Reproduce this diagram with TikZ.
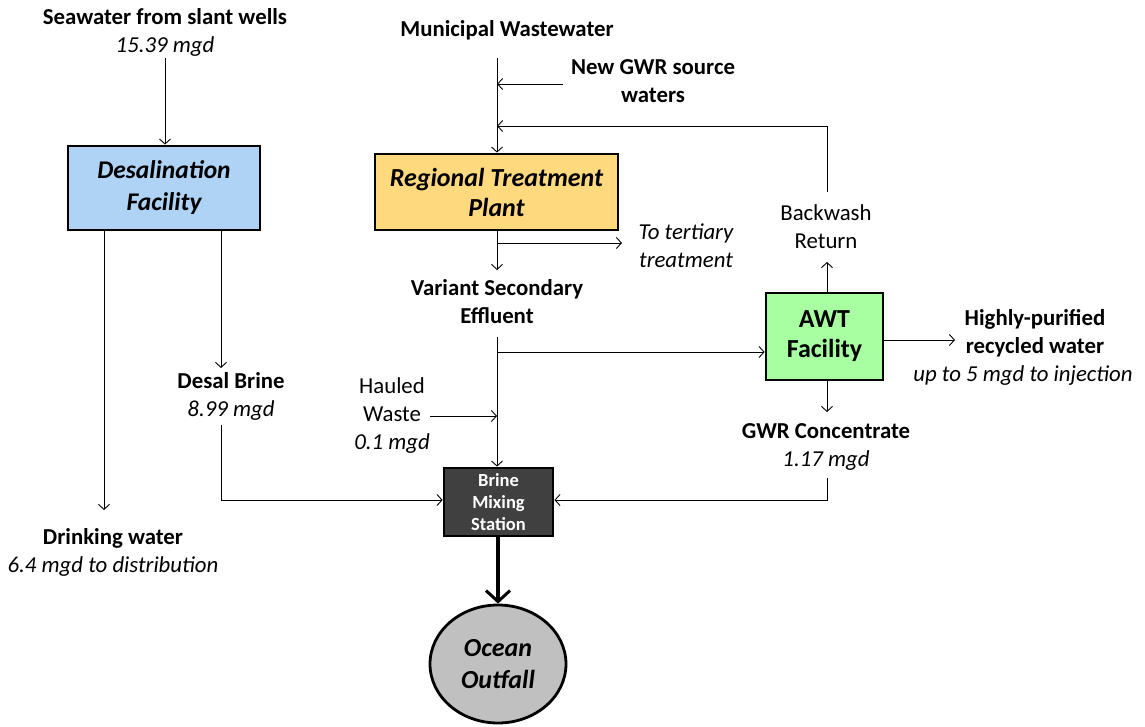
\documentclass[tikz,border=0pt]{standalone}
\usepackage{fontspec}
\setmainfont{Carlito}
\usetikzlibrary{arrows.meta,shapes.geometric}
\definecolor{desalblue}{HTML}{AED3F5}
\definecolor{rtpgold}{HTML}{FFD97D}
\definecolor{awtgreen}{HTML}{A8FFA2}
\definecolor{mixgray}{HTML}{404040}
\definecolor{outgray}{HTML}{C0C0C0}
\tikzset{
  flow/.style={-{Straight Barb[length=5pt,width=11pt]}, line width=0.9pt},
  bigflow/.style={-{Straight Barb[length=11pt,width=24pt,line width=3pt]}, line width=3.8pt},
  unit/.style={draw, line width=2.8pt, align=center, inner sep=0pt,
    font=\fontsize{26}{31}\selectfont\bfseries\itshape},
  lbl/.style={align=center, inner sep=0pt, font=\fontsize{22.8}{28}\selectfont\bfseries},
  plain/.style={align=center, inner sep=0pt, font=\fontsize{22.8}{28}\selectfont},
  ital/.style={align=center, inner sep=0pt, font=\fontsize{22.8}{28}\selectfont\itshape},
}
\begin{document}
\begin{tikzpicture}[x=1pt,y=-1pt]
\useasboundingbox (0,0) rectangle (1145,726);
% units
\node[unit, fill=desalblue, minimum width=192pt, minimum height=84pt, font=\fontsize{25.5}{32}\selectfont\bfseries\itshape] (desal) at (164,188) {Desalination\\Facility};
\node[unit, fill=rtpgold, minimum width=243pt, minimum height=76pt, font=\fontsize{26}{30}\selectfont\bfseries\itshape] (rtp) at (496.5,192) {Regional Treatment\\Plant};
\node[unit, fill=awtgreen, minimum width=117pt, minimum height=87pt, font=\fontsize{26}{30}\selectfont\bfseries] (awt) at (824.5,336.5) {AWT\\Facility};
\node[draw, line width=2.8pt, fill=mixgray, text=white, align=center, inner sep=0pt,
  minimum width=109pt, minimum height=68pt, font=\fontsize{18.5}{22}\selectfont\bfseries] (mix) at (498.5,502) {Brine\\Mixing\\Station};
\node[ellipse, draw, line width=2.8pt, fill=outgray, minimum width=136pt, minimum height=118pt, inner sep=0pt, align=center,
  font=\fontsize{26}{32}\selectfont\bfseries\itshape] (ocean) at (498,664) {Ocean\\Outfall};
% labels
\node[lbl] (sea) at (165,32) {Seawater from slant wells\\{\mdseries\itshape 15.39 mgd}};
\node[lbl] (dw) at (113,552) {Drinking water\\{\mdseries\itshape 6.4 mgd to distribution}};
\node[lbl] (brine) at (231,396) {Desal Brine\\{\mdseries\itshape 8.99 mgd}};
\node[lbl] (muni) at (507,30) {Municipal Wastewater};
\node[lbl] (newgwr) at (653,81) {New GWR source\\waters};
\node[ital] (tert) at (686,246) {To tertiary\\treatment};
\node[lbl] (vse) at (497,302) {Variant Secondary\\Effluent};
\node[plain] (haul) at (392,416) {Hauled\\Waste\\{\itshape 0.1 mgd}};
\node[plain] (bw) at (826,227) {Backwash\\Return};
\node[lbl] (hp) at (1035,333) {Highly-purified\\recycled water};
\node[ital] (inj) at (1023,376) {up to 5 mgd to injection};
\node[lbl] (gwrc) at (826,447) {GWR Concentrate\\{\mdseries\itshape 1.17 mgd}};
% coordinates
\coordinate (seaend) at (165,58);
\coordinate (dwtop) at (104,510);
\coordinate (brtop) at (221,368);
\coordinate (brbot) at (221,425);
\coordinate (brcorner) at (221,500);
\coordinate (muniend) at (497,58);
\coordinate (newstart) at (563,84);
\coordinate (bwtop) at (827,192);
\coordinate (bwcorner) at (827,126);
\coordinate (rtpout) at (497,270);
\coordinate (tertsplit) at (497,243);
\coordinate (tertend) at (622,243);
\coordinate (vsebot) at (497,337);
\coordinate (awtsplit) at (497,352);
\coordinate (haulstart) at (430,416);
\coordinate (awtup) at (827,262);
\coordinate (awtdown) at (827,412);
\coordinate (gwrbot) at (827,478);
\coordinate (gwrcorner) at (827,500);
\coordinate (hpend) at (955,340);
% connectors
\draw[flow] (seaend) -- (seaend |- desal.north);
\draw[flow] (desal.south -| dwtop) -- (dwtop);
\draw[flow] (desal.south -| brtop) -- (brtop);
\draw[flow] (brbot) -- (brcorner) -- (brcorner -| mix.west);
\draw[flow] (muniend) -- (muniend |- rtp.north);
\draw[flow] (newstart) -- (newstart -| muniend);
\draw[flow] (bwtop) -- (bwcorner) -- (bwcorner -| muniend);
\draw[flow] (rtp.south -| rtpout) -- (rtpout);
\draw[flow] (tertsplit) -- (tertend);
\draw[flow] (vsebot) -- (vsebot |- mix.north);
\draw[flow] (awtsplit) -- (awtsplit -| awt.west);
\draw[flow] (haulstart) -- (haulstart -| vsebot);
\draw[flow] (awt.north -| awtup) -- (awtup);
\draw[flow] (awt.south -| awtdown) -- (awtdown);
\draw[flow] (awt.east |- hpend) -- (hpend);
\draw[flow] (gwrbot) -- (gwrcorner) -- (gwrcorner -| mix.east);
\draw[bigflow] (mix.south -| ocean.north) -- (ocean.north);
\end{tikzpicture}
\end{document}
